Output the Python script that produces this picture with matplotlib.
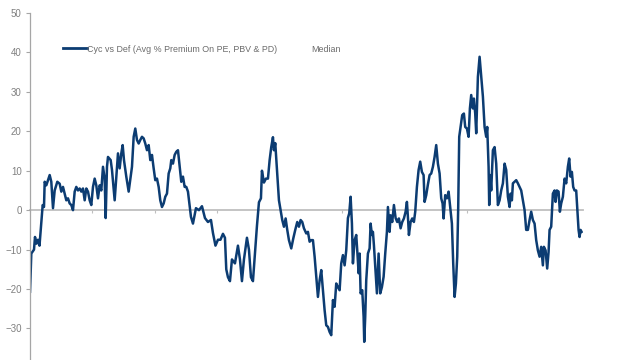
import matplotlib
matplotlib.use("Agg")
import matplotlib.pyplot as plt
from matplotlib.lines import Line2D

plt.rcParams["font.family"] = ["Liberation Sans", "DejaVu Sans"]

# years since start of the series
years = [
    0.000, 0.021, 0.064, 0.080, 0.104, 0.128, 0.152, 0.176, 0.203, 0.224,
    0.235, 0.261, 0.288, 0.315, 0.341, 0.368, 0.395, 0.437, 0.475, 0.501,
    0.528, 0.555, 0.581, 0.608, 0.635, 0.661, 0.688, 0.715, 0.741, 0.768,
    0.795, 0.821, 0.848, 0.875, 0.901, 0.928, 0.955, 0.981, 1.008, 1.035,
    1.061, 1.088, 1.115, 1.141, 1.168, 1.195, 1.211, 1.232, 1.248, 1.291,
    1.312, 1.355, 1.381, 1.408, 1.435, 1.461, 1.483, 1.504, 1.541, 1.579,
    1.611, 1.632, 1.659, 1.685, 1.712, 1.739, 1.765, 1.792, 1.819, 1.845,
    1.872, 1.899, 1.925, 1.952, 1.979, 2.005, 2.032, 2.059, 2.085, 2.112,
    2.139, 2.165, 2.192, 2.219, 2.245, 2.261, 2.288, 2.315, 2.341, 2.368,
    2.395, 2.421, 2.448, 2.475, 2.501, 2.528, 2.576, 2.608, 2.656, 2.704,
    2.752, 2.800, 2.848, 2.896, 2.928, 2.968, 3.008, 3.048, 3.088, 3.120,
    3.141, 3.168, 3.200, 3.232, 3.280, 3.328, 3.360, 3.392, 3.424, 3.472,
    3.504, 3.536, 3.568, 3.600, 3.632, 3.664, 3.696, 3.712, 3.744, 3.776,
    3.808, 3.835, 3.861, 3.888, 3.904, 3.925, 3.957, 3.984, 4.011, 4.037,
    4.064, 4.091, 4.117, 4.144, 4.181, 4.213, 4.245, 4.277, 4.304, 4.331,
    4.357, 4.384, 4.421, 4.448, 4.475, 4.501, 4.528, 4.555, 4.581, 4.608,
    4.635, 4.661, 4.688, 4.715, 4.741, 4.768, 4.795, 4.821, 4.848, 4.875,
    4.901, 4.928, 4.955, 4.981, 5.008, 5.035, 5.061, 5.088, 5.109, 5.131,
    5.152, 5.168, 5.195, 5.221, 5.237, 5.259, 5.275, 5.291, 5.317, 5.339,
    5.349, 5.365, 5.381, 5.408, 5.435, 5.451, 5.472, 5.488, 5.504, 5.525,
    5.552, 5.579, 5.605, 5.632, 5.659, 5.685, 5.712, 5.728, 5.755, 5.771,
    5.797, 5.824, 5.851, 5.877, 5.904, 5.931, 5.957, 5.984, 6.011, 6.032,
    6.053, 6.064, 6.091, 6.117, 6.144, 6.165, 6.192, 6.219, 6.245, 6.272,
    6.299, 6.315, 6.341, 6.368, 6.395, 6.421, 6.448, 6.475, 6.501, 6.528,
    6.555, 6.581, 6.603, 6.619, 6.645, 6.672, 6.699, 6.725, 6.752, 6.773,
    6.795, 6.816, 6.837, 6.853, 6.869, 6.891, 6.917, 6.944, 6.965, 6.992,
    7.019, 7.040, 7.061, 7.088, 7.104, 7.125, 7.141, 7.168, 7.195, 7.221,
    7.248, 7.275, 7.301, 7.317, 7.339, 7.349, 7.365, 7.381, 7.408, 7.435,
    7.461, 7.488, 7.515, 7.541, 7.568, 7.595, 7.621, 7.648, 7.675, 7.691,
    7.712, 7.728, 7.755, 7.781, 7.808, 7.835, 7.861, 7.888, 7.915, 7.941,
    7.968, 7.995, 8.021, 8.048, 8.075, 8.101, 8.128, 8.155, 8.181, 8.208,
    8.224, 8.251, 8.277, 8.299, 8.315, 8.341, 8.368, 8.395, 8.411, 8.432,
    8.459, 8.480, 8.501, 8.528, 8.555, 8.581, 8.608, 8.629, 8.651, 8.672,
    8.693, 8.715, 8.741, 8.757, 8.779, 8.795, 8.811, 8.827,
]

# Cyc vs Def, avg % premium on PE, PBV & PD
premium = [
    -20.7, -11.0, -10.0, -6.8, -8.5, -7.5, -9.0, -4.3, 1.3, 0.8,
    7.2, 6.3, 7.6, 8.9, 7.2, 0.5, 5.0, 7.2, 6.7, 4.7,
    5.9, 4.2, 2.5, 3.0, 1.7, 1.3, 0.0, 4.7, 5.9, 5.0,
    5.5, 4.7, 5.5, 2.5, 5.5, 4.7, 2.5, 1.3, 5.9, 8.0,
    6.3, 3.0, 6.3, 5.0, 11.0, 8.0, -2.0, 11.0, 13.5, 12.7,
    10.2, 2.5, 8.5, 14.4, 10.6, 14.4, 16.5, 12.7, 8.5, 4.7,
    8.5, 11.0, 18.6, 20.7, 17.8, 16.9, 17.8, 18.6, 18.2, 16.9,
    15.2, 16.5, 12.7, 14.0, 10.6, 7.6, 8.0, 5.9, 2.5, 0.8,
    1.7, 3.4, 4.2, 9.3, 10.6, 12.7, 11.8, 14.0, 14.8, 15.2,
    11.0, 7.2, 8.5, 5.9, 5.9, 4.7, -1.7, -3.4, 0.5, 0.0,
    1.0, -2.0, -3.0, -2.5, -5.8, -9.0, -7.5, -7.5, -6.0, -7.0,
    -15.0, -17.0, -18.0, -12.5, -13.5, -9.0, -12.5, -18.0, -12.5, -7.0,
    -10.0, -17.0, -18.0, -11.0, -4.0, 2.0, 3.0, 10.0, 7.0, 8.0,
    8.0, 12.7, 16.0, 18.5, 15.2, 17.0, 9.3, 2.5, 0.0, -2.5,
    -4.2, -2.1, -5.0, -7.6, -9.7, -7.2, -5.0, -3.0, -4.2, -2.5,
    -3.0, -4.6, -5.9, -5.5, -8.0, -7.6, -7.6, -11.8, -16.9, -22.0,
    -17.8, -15.2, -20.3, -25.4, -29.2, -29.6, -30.9, -31.7, -22.8, -24.5,
    -18.6, -19.5, -20.3, -13.5, -11.4, -14.0, -10.2, -2.0, -0.8, 3.4,
    -3.4, -13.5, -7.6, -6.3, -10.2, -16.0, -11.0, -21.1, -20.3, -27.0,
    -33.4, -27.0, -17.8, -11.0, -9.7, -3.4, -6.3, -5.5, -8.9, -14.4,
    -21.1, -11.0, -21.1, -19.5, -16.9, -11.0, -5.5, 0.8, -5.5, -1.3,
    -3.0, 1.3, -2.0, -3.0, -2.1, -4.6, -3.0, -2.1, -0.4, 2.1,
    -3.0, -6.3, -3.0, -2.1, -3.0, -0.4, 5.9, 10.2, 12.3, 9.7,
    8.9, 2.1, 3.8, 6.5, 8.9, 9.3, 11.0, 13.5, 16.5, 11.8,
    9.3, 3.0, 1.7, -2.1, 3.8, 3.0, 4.7, 0.8, -3.4, -13.5,
    -22.0, -18.6, -11.8, 0.8, 18.6, 21.1, 24.1, 24.5, 21.1, 20.7,
    18.6, 25.8, 29.2, 25.8, 28.3, 24.5, 19.5, 33.8, 38.9, 33.8,
    28.8, 21.1, 18.6, 21.1, 11.0, 1.3, 8.9, 5.0, 15.2, 16.0,
    11.8, 1.3, 2.5, 5.0, 6.8, 11.8, 10.2, 3.4, 0.8, 4.2,
    2.5, 6.8, 7.2, 7.6, 6.8, 5.9, 5.0, 2.5, 0.0, -5.0,
    -5.0, -2.5, -0.4, -2.5, -3.4, -7.6, -10.2, -11.8, -9.3, -14.0,
    -9.3, -10.2, -14.8, -10.6, -5.0, -4.2, 4.2, 5.0, 2.1, 5.0,
    4.7, -0.4, 1.7, 3.4, 8.0, 6.8, 11.0, 13.1, 8.5, 9.7,
    5.9, 5.0, 5.0, 0.8, -5.0, -6.8, -5.0, -5.5,
]

y_ticks = [-30, -20, -10, 0, 10, 20, 30, 40, 50]
series_label = "Cyc vs Def (Avg % Premium On PE, PBV & PD)"
median_label = "Median"

navy = "#0C3C72"
grey_txt = "#808080"
axis_grey = "#BFBFBF"

fig = plt.figure(figsize=(6.4, 3.6), dpi=100)
ax = fig.add_axes([30 / 640, 0.0, 553 / 640, 1 - 13 / 360])

ax.plot(years, premium, color=navy, linewidth=1.8, solid_joinstyle="round")

ax.set_xlim(0, 8.85)
ax.set_ylim(-38, 50)
ax.set_yticks(y_ticks)

ax.spines["top"].set_visible(False)
ax.spines["right"].set_visible(False)
ax.spines["left"].set_color("#A6A6A6")
ax.spines["left"].set_linewidth(0.9)
ax.spines["bottom"].set_position(("data", 0))
ax.spines["bottom"].set_color(axis_grey)
ax.spines["bottom"].set_linewidth(1.3)
ax.spines["bottom"].set_zorder(0)

ax.set_xticks(range(0, 9))
ax.set_xticklabels([])
ax.tick_params(axis="x", length=2.5, width=0.8, color=axis_grey, direction="out")
ax.tick_params(axis="y", length=3, width=0.8, color="#A6A6A6", pad=3,
               labelsize=7, labelcolor=grey_txt)

handles = [
    Line2D([], [], color=navy, linewidth=2),
    Line2D([], [], color="none", linewidth=2),
]
ax.legend(handles, [series_label, median_label], ncol=2, frameon=False,
          loc="upper left", bbox_to_anchor=(29 / 553, 1 - 28 / 347),
          fontsize=6.4, labelcolor="#6B6B6B", handlelength=2.8,
          handletextpad=0.0, columnspacing=1.0, borderaxespad=0)

fig.savefig("out.png", dpi=100)
